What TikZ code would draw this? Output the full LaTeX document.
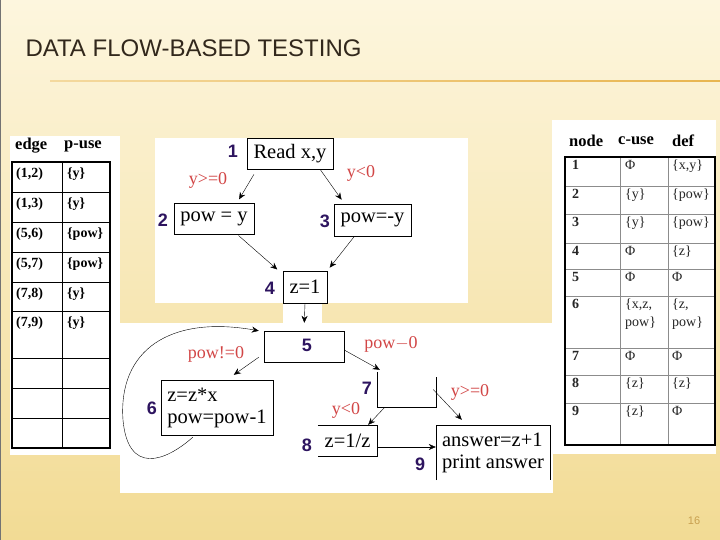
\documentclass[tikz,border=0pt]{standalone}
\usepackage{fontspec}
\setmainfont{Liberation Serif}
\newfontfamily\sansfont{Liberation Sans}
\usepackage{tikz}
\usetikzlibrary{arrows.meta}
\definecolor{slidetop}{RGB}{253,246,222}
\definecolor{slidebottom}{RGB}{242,219,148}
\definecolor{numblue}{RGB}{45,20,95}
\definecolor{condred}{RGB}{210,70,70}
\definecolor{titlecolor}{RGB}{50,40,28}
\definecolor{rulecolor}{RGB}{232,182,80}
\definecolor{pagecolor}{RGB}{200,160,80}

\begin{document}
\begin{tikzpicture}[x=1pt, y=-1pt,
  box/.style={draw, thin, inner sep=0pt, font=\fontsize{20.5}{22}\selectfont},
  num/.style={text=numblue, font=\sansfont\bfseries\fontsize{18}{20}\selectfont},
  cond/.style={text=condred, font=\fontsize{18}{20}\selectfont},
  flow/.style={-{Stealth[length=7pt,width=6pt]}, thin},
  pcell/.style={anchor=west, inner sep=0pt, font=\bfseries\fontsize{14}{16}\selectfont},
  ccell/.style={anchor=north west, inner sep=0pt, align=left, text=black!85, font=\fontsize{14}{18}\selectfont},
  head/.style={anchor=west, inner sep=0pt, font=\bfseries\fontsize{16.5}{18}\selectfont}]
  \useasboundingbox (0,0) rectangle (720,540);

  % Fondo de la diapositiva
  \shade[top color=slidetop, bottom color=slidebottom] (0,0) rectangle (720,540);
  \draw[black!55, line width=1pt] (0,0) rectangle (720,540);
  \node[anchor=west, text=titlecolor, font=\sansfont\fontsize{24}{28}\selectfont] (title) at (22,48) {DATA FLOW-BASED TESTING};
  \shade[left color=rulecolor!45!slidetop, right color=rulecolor] (50,80.3) rectangle (720,81.8);
  \node[text=pagecolor, font=\sansfont\fontsize{11}{13}\selectfont] (page) at (694,521) {16};

  % Paneles blancos
  \fill[white] (10,136) rectangle (120,455);
  \fill[white] (552,120) rectangle (716,454);
  \fill[white] (155,138) rectangle (468,303);
  \fill[white] (283,303) rectangle (322,325);
  \fill[white] (120,323) rectangle (553,493);

  % Tabla de p-uses
  \node[head] (hedge) at (15,146) {edge};
  \node[head] (hpuse) at (64,146) {p-use};
  \foreach \y in {192,222,252,282,311,358,388,418}
    \draw[thin] (12,\y) -- (110,\y);
  \draw[thin] (62,162) -- (62,448);
  \draw[line width=2.5pt] (12,162) rectangle (110,448);
  \foreach \t/\e/\u [count=\i] in {162/{(1,2)}/{\{y\}}, 192/{(1,3)}/{\{y\}},
      222/{(5,6)}/{\{pow\}}, 252/{(5,7)}/{\{pow\}}, 282/{(7,8)}/{\{y\}}, 311/{(7,9)}/{\{y\}}} {
    \node[pcell] (e\i) at (16,\t+12) {\e};
    \node[pcell] (u\i) at (67,\t+12) {\u};
  }

  % Tabla de c-uses y defs
  \node[head] (hnode) at (569,141) {node};
  \node[head] (hcuse) at (618,141) {c-use};
  \node[head] (hdef) at (672,141) {def};
  \foreach \y in {186,214,243,269,296,348,375,403}
    \draw[black!45] (565,\y) -- (715,\y);
  \draw[black!45] (620,157) -- (620,445);
  \draw[black!45] (668,157) -- (668,445);
  \draw[line width=2pt] (565,157) rectangle (715,445);
  \foreach \t/\c/\d [count=\i] in {157/{Φ}/{\{x,y\}}, 186/{\{y\}}/{\{pow\}}, 214/{\{y\}}/{\{pow\}},
      243/{Φ}/{\{z\}}, 269/{Φ}/{Φ}, 296/{\{x,z,\\pow\}}/{\{z,\\pow\}}, 348/{Φ}/{Φ},
      375/{\{z\}}/{\{z\}}, 403/{\{z\}}/{Φ}} {
    \node[ccell, font=\bfseries\fontsize{14}{18}\selectfont] (r\i) at (572,\t+3) {\i};
    \node[ccell] (c\i) at (625,\t+3) {\c};
    \node[ccell] (d\i) at (672,\t+3) {\d};
  }

  % Grafo de flujo
  \node[box, minimum width=86pt, minimum height=31pt] (n1) at (290,153.5) {Read x,y};
  \node[box, minimum width=80pt, minimum height=31pt] (n2) at (214,218.5) {pow = y};
  \node[box, minimum width=77pt, minimum height=32pt] (n3) at (372.5,220) {pow=-y};
  \node[box, minimum width=44pt, minimum height=32pt] (n4) at (305,287) {z=1};
  \node[box, minimum width=80pt, minimum height=31pt] (n5) at (304,346.5) {};
  \node[box, minimum width=112pt, minimum height=55pt, align=left] (n6) at (217,407.5) {z=z*x\\pow=pow-1};
  \node[box, draw=none, minimum width=59pt, minimum height=35pt] (n7) at (406.5,389.5) {};
  \node[box, draw=none, minimum width=59pt, minimum height=31pt] (n8) at (347.5,440.5) {z=1/z};
  \node[box, draw=none, minimum width=114pt, minimum height=55pt, align=left] (n9) at (493,452.5) {answer=z+1\\print answer};
  \draw[thin] (n7.north west) -- (n7.south west) -- (n7.south east) -- ([yshift=-5pt]n7.north east);
  \draw[thin] (n8.north west) -- (n8.north east) -- (n8.south east) -- (n8.south west);
  \draw[thin] (n9.south west) -- (n9.north west) -- (n9.north east) -- (n9.south east);

  % Numeros de nodo
  \node[num] (l1) at (233,151) {1};
  \node[num] (l2) at (163,220) {2};
  \node[num] (l3) at (325,221) {3};
  \node[num] (l4) at (270,288) {4};
  \node[num] (l5) at (307,345) {5};
  \node[num] (l6) at (152,408) {6};
  \node[num] (l7) at (367,388) {7};
  \node[num] (l8) at (307,445) {8};
  \node[num] (l9) at (420,464) {9};

  % Condiciones
  \node[cond] (c12) at (208,180) {y>=0};
  \node[cond] (c13) at (361,173) {y<0};
  \node[cond] (c56) at (216,354) {pow!=0};
  \node[cond] (c57) at (391,344) {pow$-$0};
  \node[cond] (c78) at (346,410) {y<0};
  \node[cond] (c79) at (470,392) {y>=0};

  % Aristas
  \draw[flow, shorten <=6pt, shorten >=4pt] ([xshift=-33pt]n1.south) -- ([xshift=23pt]n2.north);
  \draw[flow, shorten >=5pt] ([xshift=30pt]n1.south) -- ([xshift=-28pt]n3.north);
  \draw[flow, shorten <=2pt, shorten >=2pt] ([xshift=23pt]n2.south) -- ([xshift=-4pt]n4.north west);
  \draw[flow, shorten <=1pt, shorten >=4pt] ([xshift=-18pt]n3.south) -- (n4.north east);
  \draw[flow, shorten >=8pt] (n4.south) -- (n5.north);
  \draw[flow] ([xshift=-5pt,yshift=5pt]n5.south west) -- ([xshift=73pt,yshift=5pt]n6.north west);
  \draw[flow] ([yshift=-3.5pt]n5.east) -- ([xshift=3pt,yshift=2pt]n7.north west);
  \draw[flow] ([xshift=8pt]n7.south west) -- ([xshift=-9pt]n8.north east);
  \draw[flow] ([xshift=-3pt]n7.east) -- ([xshift=26pt,yshift=5pt]n9.north west);
  \draw[flow] ([yshift=-6.5pt]n8.east) -- ([yshift=5.5pt]n9.west);
  \draw[flow] ([xshift=32pt,yshift=-2pt]n6.south west) .. controls (165,462) and (128,475) .. (123,420)
    .. controls (118,350) and (170,315) .. ([xshift=-5pt]n5.north west);
\end{tikzpicture}
\end{document}
